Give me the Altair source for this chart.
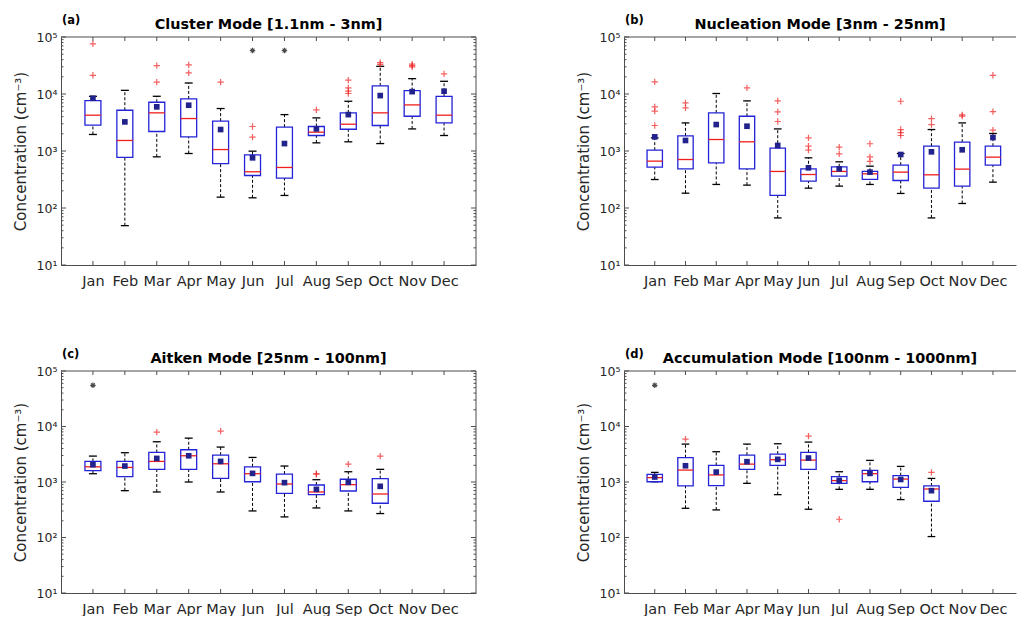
import altair as alt
import pandas as pd

MONTHS = ["Jan", "Feb", "Mar", "Apr", "May", "Jun", "Jul", "Aug", "Sep", "Oct", "Nov", "Dec"]
DECADES = [10, 100, 1000, 10000, 100000]
MINOR_STEPS = [2, 3, 4, 5, 6, 7, 8, 9]

# (a) Cluster mode, 1.1-3 nm
A_Q1 = [2840, 770, 2200, 1770, 600, 372, 334, 1870, 2410, 2800, 4070, 3110]
A_MED = [4250, 1530, 4670, 3710, 1060, 432, 514, 2140, 2950, 4670, 6440, 4250]
A_Q3 = [7670, 5190, 7160, 8200, 3340, 857, 2620, 2690, 4670, 13900, 11500, 9120]
A_LO = [1950, 49, 790, 904, 155, 151, 166, 1390, 1450, 1350, 2440, 1870]
A_HI = [9100, 11600, 9120, 15600, 5560, 993, 4350, 3810, 7460, 30600, 18600, 16700]
A_MEAN = [8430, 3240, 5950, 6350, 2380, 759, 1350, 2440, 4350, 9380, 11000, 11200]
A_OUT = [[76000, 21300], [], [31500, 16100], [32400, 23400], [16100], [2690, 1750], [],
         [5260], [17500, 12800, 11200, 10200], [35500, 33000], [33500, 31500, 30000], [22500]]
A_STAR = [[], [], [], [], [], [58000], [58000], [], [], [], [], []]

# (b) Nucleation mode, 3-25 nm
B_Q1 = [520, 487, 621, 487, 166, 296, 362, 317, 304, 223, 242, 565]
B_MED = [664, 709, 1590, 1450, 438, 387, 438, 398, 426, 382, 481, 780]
B_Q3 = [1035, 1840, 4670, 4070, 1120, 487, 528, 438, 565, 1215, 1430, 1215]
B_LO = [316, 182, 259, 252, 67, 223, 242, 259, 180, 67, 120, 284]
B_HI = [1700, 3110, 10200, 7570, 2440, 759, 646, 542, 904, 2380, 3110, 2030]
B_MEAN = [1770, 1530, 2910, 2720, 1250, 507, 487, 426, 868, 967, 1050, 1720]
B_OUT = [[16300, 5940, 4990, 2800], [6980, 5700], [], [12800], [7570, 4850, 3290],
         [1700, 1215, 1035], [1170, 891], [1340, 791, 655], [7460, 2380, 2100, 1870],
         [3700, 2910], [4300, 4100], [21300, 4920, 2320]]
B_STAR = [[], [], [], [], [], [], [], [], [], [], [], []]

# (c) Aitken mode, 25-100 nm (Jan-Oct)
C_Q1 = [1600, 1250, 1690, 1690, 1160, 1010, 625, 592, 689, 414]
C_MED = [1880, 1830, 2350, 2970, 2130, 1410, 920, 661, 896, 608]
C_Q3 = [2350, 2350, 3410, 3810, 3050, 1880, 1390, 883, 1120, 1150]
C_LO = [1410, 698, 661, 1000, 661, 301, 235, 341, 301, 270]
C_HI = [2930, 3370, 5310, 6170, 4260, 2770, 1940, 1100, 1530, 1690]
C_MEAN = [2050, 1940, 2660, 2970, 2350, 1430, 973, 738, 986, 836]
C_OUT = [[], [], [7910], [], [8240], [], [], [1410, 1380], [2100], [2930]]
C_STAR = [[55300], [], [], [], [], [], [], [], [], []]

# (d) Accumulation mode, 100-1000 nm (Jan-Oct)
D_Q1 = [1010, 848, 859, 1690, 1990, 1690, 946, 1010, 802, 450]
D_MED = [1200, 1640, 1340, 2100, 2520, 2480, 1060, 1410, 1130, 748]
D_Q3 = [1370, 2740, 1990, 3050, 3190, 3410, 1250, 1620, 1300, 848]
D_LO = [1010, 336, 314, 946, 592, 323, 738, 738, 482, 104]
D_HI = [1490, 4820, 3510, 4820, 4890, 5240, 1530, 2450, 1910, 1160]
D_MEAN = [1230, 1960, 1510, 2320, 2560, 2700, 1070, 1430, 1110, 698]
D_OUT = [[], [5920], [], [], [], [6700], [213], [], [], [1490]]
D_STAR = [[55300], [], [], [], [], [], [], [], [], []]

FONT = "DejaVu Sans"
TEXT = "#262626"
AXIS = "#4d4d4d"
BLUE = "#2323d8"
RED = "#f01e1e"
NAVY = "#22228c"
PLUS = "M-1,0L1,0M0,-1L0,1"
STAR = "M-1,0L1,0M0,-1L0,1M-0.7,-0.7L0.7,0.7M-0.7,0.7L0.7,-0.7"

MONTH_EXPR = "[" + ",".join("'%s'" % m for m in MONTHS) + "][datum.value - 1]"
SUP_EXPR = "'10' + ['\u2070','\u00b9','\u00b2','\u00b3','\u2074','\u2075'][round(log(datum.value) / LN10)]"

X_AXIS = alt.Axis(values=list(range(1, 13)), labelExpr=MONTH_EXPR, title="", tickSize=0,
                  labelPadding=9, labelFontSize=14.5, labelColor=TEXT, labelFont=FONT,
                  domainColor=AXIS, domainWidth=1, grid=False, labelFlush=False)
Y_AXIS = alt.Axis(values=DECADES, labelExpr=SUP_EXPR, title="Concentration (cm\u207b\u00b3)",
                  tickSize=0, labelPadding=4, labelFontSize=12.5, labelColor=TEXT, labelFont=FONT,
                  titleFont=FONT, titleFontSize=15, titleFontWeight="normal", titleColor=TEXT,
                  titlePadding=8, domainColor=AXIS, domainWidth=1, grid=False, labelFlush=False)


def panel(tag, title, q1, med, q3, lo, hi, mean, outs, stars, width, height, xmax, right_edge):
    n = len(q1)
    idx = list(range(1, n + 1))
    df = pd.DataFrame(dict(m=idx, q1=q1, med=med, q3=q3, lo=lo, hi=hi, mean=mean))
    df["xl"] = df["m"] - 0.25
    df["xr"] = df["m"] + 0.25
    df["cl"] = df["m"] - 0.125
    df["cr"] = df["m"] + 0.125

    out_df = pd.DataFrame([(i, v) for i, vals in zip(idx, outs) for v in vals], columns=["m", "v"])
    star_df = pd.DataFrame([(i, v) for i, vals in zip(idx, stars) for v in vals], columns=["m", "v"])
    tick_df = pd.DataFrame({"m": list(range(1, 13))})
    major_df = pd.DataFrame({"v": DECADES})
    minor_df = pd.DataFrame({"v": [k * d for d in DECADES[:-1] for k in MINOR_STEPS]})
    one = pd.DataFrame({"k": [0]})

    xs = alt.Scale(domain=[0, xmax], nice=False, zero=False)
    ys = alt.Scale(type="log", domain=[10, 100000], nice=False)

    def X(field):
        return alt.X(field, type="quantitative", scale=xs, axis=X_AXIS)

    def Y(field):
        return alt.Y(field, type="quantitative", scale=ys, axis=Y_AXIS)

    base = alt.Chart(df)
    layers = [
        base.mark_rule(color="black", strokeDash=[3, 2], strokeWidth=1).encode(x=X("m"), y=Y("lo"), y2="q1"),
        base.mark_rule(color="black", strokeDash=[3, 2], strokeWidth=1).encode(x=X("m"), y=Y("q3"), y2="hi"),
        base.mark_rule(color="black", strokeWidth=1.3).encode(x=X("cl"), x2="cr", y=Y("lo")),
        base.mark_rule(color="black", strokeWidth=1.3).encode(x=X("cl"), x2="cr", y=Y("hi")),
        base.mark_rect(fillOpacity=0, stroke=BLUE, strokeWidth=1.3).encode(
            x=X("xl"), x2="xr", y=Y("q1"), y2="q3"),
        base.mark_rule(color=RED, strokeWidth=1.3).encode(x=X("xl"), x2="xr", y=Y("med")),
        base.mark_square(size=32, color=NAVY, opacity=1).encode(x=X("m"), y=Y("mean")),
    ]
    if len(out_df):
        layers.append(alt.Chart(out_df).mark_point(shape=PLUS, color=RED, strokeWidth=1.2, size=40)
                      .encode(x=X("m"), y=Y("v")))
    if len(star_df):
        layers.append(alt.Chart(star_df).mark_point(shape=STAR, color="black", strokeWidth=1.2, size=30)
                      .encode(x=X("m"), y=Y("v")))

    # inward tick marks on the box edges
    layers += [
        alt.Chart(tick_df).mark_rule(color=AXIS, strokeWidth=1).encode(
            x=X("m"), y=alt.value(height), y2=alt.value(height - 4)),
        alt.Chart(tick_df).mark_rule(color=AXIS, strokeWidth=1).encode(
            x=X("m"), y=alt.value(0), y2=alt.value(4)),
        alt.Chart(major_df).mark_rule(color=AXIS, strokeWidth=1).encode(
            y=Y("v"), x=alt.value(0), x2=alt.value(5)),
        alt.Chart(minor_df).mark_rule(color=AXIS, strokeWidth=1).encode(
            y=Y("v"), x=alt.value(0), x2=alt.value(2.5)),
        alt.Chart(one).mark_rule(color=AXIS, strokeWidth=1).encode(
            x=alt.value(0), x2=alt.value(width), y=alt.value(0)),
    ]
    if right_edge:
        layers += [
            alt.Chart(major_df).mark_rule(color=AXIS, strokeWidth=1).encode(
                y=Y("v"), x=alt.value(width), x2=alt.value(width - 5)),
            alt.Chart(minor_df).mark_rule(color=AXIS, strokeWidth=1).encode(
                y=Y("v"), x=alt.value(width), x2=alt.value(width - 2.5)),
            alt.Chart(one).mark_rule(color=AXIS, strokeWidth=1).encode(
                x=alt.value(width), y=alt.value(0), y2=alt.value(height)),
        ]

    layers += [
        alt.Chart(one).mark_text(font=FONT, fontSize=14.4, fontWeight="bold", color="black",
                                 align="center", baseline="middle").encode(
            x=alt.value(width / 2), y=alt.value(-12), text=alt.value(title)),
        alt.Chart(one).mark_text(font=FONT, fontSize=11.5, fontWeight="bold", color="black",
                                 align="left", baseline="middle").encode(
            x=alt.value(1), y=alt.value(-16), text=alt.value(tag)),
    ]
    return alt.layer(*layers).properties(width=width, height=height)


pa = panel("(a)", "Cluster Mode [1.1nm - 3nm]", A_Q1, A_MED, A_Q3, A_LO, A_HI, A_MEAN, A_OUT, A_STAR,
           415, 228, 13, True)
pb = panel("(b)", "Nucleation Mode [3nm - 25nm]", B_Q1, B_MED, B_Q3, B_LO, B_HI, B_MEAN, B_OUT, B_STAR,
           392, 228, 12.75, False)
pc = panel("(c)", "Aitken Mode [25nm - 100nm]", C_Q1, C_MED, C_Q3, C_LO, C_HI, C_MEAN, C_OUT, C_STAR,
           415, 222, 13, True)
pd_ = panel("(d)", "Accumulation Mode [100nm - 1000nm]", D_Q1, D_MED, D_Q3, D_LO, D_HI, D_MEAN, D_OUT, D_STAR,
            392, 222, 12.75, False)

chart = (
    alt.concat(pa, pb, pc, pd_, columns=2, spacing={"row": 106, "column": 148}, bounds="flush")
    .properties(padding={"left": 13, "top": 15, "right": 0, "bottom": 0}, background="white")
    .configure_view(strokeWidth=0)
)

chart.save("out.html", embed_options={"renderer": "svg", "actions": False})
